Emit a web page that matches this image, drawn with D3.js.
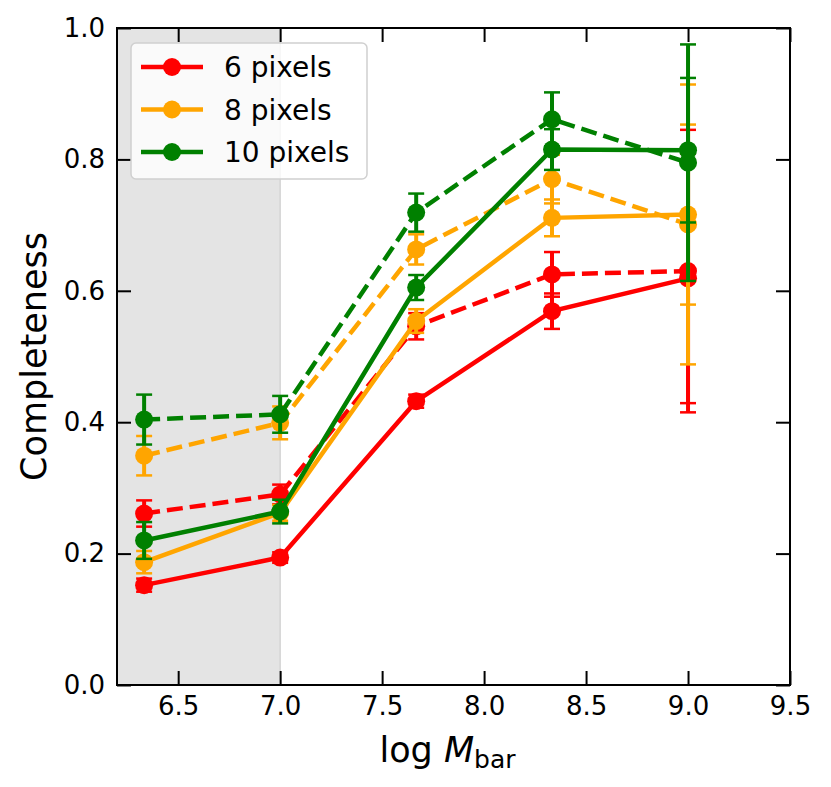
<!DOCTYPE html>
<html>
<head>
<meta charset="utf-8">
<script src="https://cdn.jsdelivr.net/npm/d3@7"></script>
<style>
  body { margin: 0; background: #fff; }
  svg text { font-family: "DejaVu Sans", sans-serif; }
</style>
</head>
<body>
<div id="chart"></div>
<script>
// bin centres in log M_bar
const xs = [6.333, 7.0, 7.667, 8.333, 9.0];

// completeness per aperture size, solid and dashed curves, with errors
const red_solid = [0.152, 0.194, 0.432, 0.569, 0.619];
const red_solid_err = [0.010, 0.008, 0.010, 0.027, 0.190];
const red_dashed = [0.261, 0.290, 0.546, 0.625, 0.630];
const red_dashed_err = [0.020, 0.015, 0.020, 0.034, 0.215];

const orange_solid = [0.187, 0.262, 0.554, 0.711, 0.716];
const orange_solid_err = [0.017, 0.012, 0.018, 0.028, 0.137];
const orange_dashed = [0.349, 0.399, 0.663, 0.770, 0.701];
const orange_dashed_err = [0.030, 0.025, 0.023, 0.037, 0.213];

const green_solid = [0.220, 0.264, 0.605, 0.815, 0.814];
const green_solid_err = [0.028, 0.018, 0.019, 0.031, 0.110];
const green_dashed = [0.404, 0.412, 0.719, 0.861, 0.795];
const green_dashed_err = [0.038, 0.028, 0.029, 0.041, 0.180];

const legend_labels = ["6 pixels", "8 pixels", "10 pixels"];
const colors = ["#ff0000", "#ffa500", "#008000"];

const x_ticks = [6.5, 7.0, 7.5, 8.0, 8.5, 9.0, 9.5];
const y_ticks = [0.0, 0.2, 0.4, 0.6, 0.8, 1.0];

const dash = "16,7";
const series = [
  {y: red_solid, err: red_solid_err, color: colors[0], dash: null},
  {y: red_dashed, err: red_dashed_err, color: colors[0], dash: dash},
  {y: orange_solid, err: orange_solid_err, color: colors[1], dash: null},
  {y: orange_dashed, err: orange_dashed_err, color: colors[1], dash: dash},
  {y: green_solid, err: green_solid_err, color: colors[2], dash: null},
  {y: green_dashed, err: green_dashed_err, color: colors[2], dash: dash}
];

const W = 831, H = 787;
const margin = {top: 28, right: 41, bottom: 102, left: 117};
const width = W - margin.left - margin.right,
  height = H - margin.top - margin.bottom;

const x = d3.scaleLinear().domain([6.2, 9.5]).range([0, width]);
const y = d3.scaleLinear().domain([0, 1]).range([height, 0]);

const svg = d3.select("#chart")
  .append("svg")
  .attr("width", W)
  .attr("height", H)
  .append("g")
  .attr("transform", "translate(" + margin.left + "," + margin.top + ")");

// shaded region below log M = 7
svg.append("rect")
  .attr("x", x(6.2))
  .attr("y", 0)
  .attr("width", x(7.0) - x(6.2))
  .attr("height", height)
  .attr("fill", "#e4e4e4");
svg.append("line")
  .attr("x1", x(7.0)).attr("x2", x(7.0))
  .attr("y1", 0).attr("y2", height)
  .attr("stroke", "#d4d4d4")
  .attr("stroke-width", 1.5);

const line = d3.line()
  .x((d, i) => x(xs[i]))
  .y(d => y(d));

series.forEach(function (s) {
  const g = svg.append("g");
  // error bars
  s.y.forEach(function (v, i) {
    const cx = x(xs[i]);
    g.append("line")
      .attr("x1", cx).attr("x2", cx)
      .attr("y1", y(v - s.err[i])).attr("y2", y(v + s.err[i]))
      .attr("stroke", s.color)
      .attr("stroke-width", 4);
    [v - s.err[i], v + s.err[i]].forEach(function (e) {
      g.append("line")
        .attr("x1", cx - 8).attr("x2", cx + 8)
        .attr("y1", y(e)).attr("y2", y(e))
        .attr("stroke", s.color)
        .attr("stroke-width", 2.5);
    });
  });
  g.append("path")
    .datum(s.y)
    .attr("d", line)
    .attr("fill", "none")
    .attr("stroke", s.color)
    .attr("stroke-width", 4.5)
    .attr("stroke-dasharray", s.dash);
  g.selectAll("circle")
    .data(s.y)
    .enter().append("circle")
    .attr("cx", (d, i) => x(xs[i]))
    .attr("cy", d => y(d))
    .attr("r", 9)
    .attr("fill", s.color);
});

// axes, ticks inward on all four sides
const tick_len = 14;
svg.append("g")
  .attr("transform", "translate(0," + height + ")")
  .call(d3.axisBottom(x).tickValues(x_ticks).tickFormat(d3.format(".1f"))
    .tickSizeInner(-tick_len).tickSizeOuter(0).tickPadding(12));
svg.append("g")
  .call(d3.axisTop(x).tickValues(x_ticks).tickFormat("")
    .tickSizeInner(-tick_len).tickSizeOuter(0));
svg.append("g")
  .call(d3.axisLeft(y).tickValues(y_ticks).tickFormat(d3.format(".1f"))
    .tickSizeInner(-tick_len).tickSizeOuter(0).tickPadding(12));
svg.append("g")
  .attr("transform", "translate(" + width + ",0)")
  .call(d3.axisRight(y).tickValues(y_ticks).tickFormat("")
    .tickSizeInner(-tick_len).tickSizeOuter(0));

svg.selectAll(".domain").remove();
svg.selectAll(".tick line").attr("stroke", "#000").attr("stroke-width", 2);
svg.selectAll(".tick text")
  .attr("fill", "#000")
  .style("font-size", "26px");

svg.append("rect")
  .attr("x", 0).attr("y", 0)
  .attr("width", width).attr("height", height)
  .attr("fill", "none")
  .attr("stroke", "#000")
  .attr("stroke-width", 2);

// axis labels
svg.append("text")
  .attr("x", width / 2 - 6)
  .attr("y", height + 77)
  .attr("text-anchor", "middle")
  .style("font-size", "35px")
  .html('log <tspan font-style="italic">M</tspan><tspan font-size="25px" dy="6">bar</tspan>');

svg.append("text")
  .attr("transform", "translate(" + (-71) + "," + (height / 2) + ") rotate(-90)")
  .attr("text-anchor", "middle")
  .style("font-size", "35px")
  .text("Completeness");

// legend
const lg = svg.append("g").attr("transform", "translate(14,15)");
lg.append("rect")
  .attr("width", 236).attr("height", 136)
  .attr("rx", 5)
  .attr("fill", "#fff").attr("fill-opacity", 0.8)
  .attr("stroke", "#d0d0d0").attr("stroke-width", 1.5);
legend_labels.forEach(function (lab, i) {
  const yy = 24 + i * 42.5;
  lg.append("line")
    .attr("x1", 10).attr("x2", 72)
    .attr("y1", yy).attr("y2", yy)
    .attr("stroke", colors[i]).attr("stroke-width", 4.5);
  lg.append("circle")
    .attr("cx", 41).attr("cy", yy).attr("r", 9)
    .attr("fill", colors[i]);
  lg.append("text")
    .attr("x", 93).attr("y", yy + 10)
    .style("font-size", "28px")
    .text(lab);
});
</script>
</body>
</html>
